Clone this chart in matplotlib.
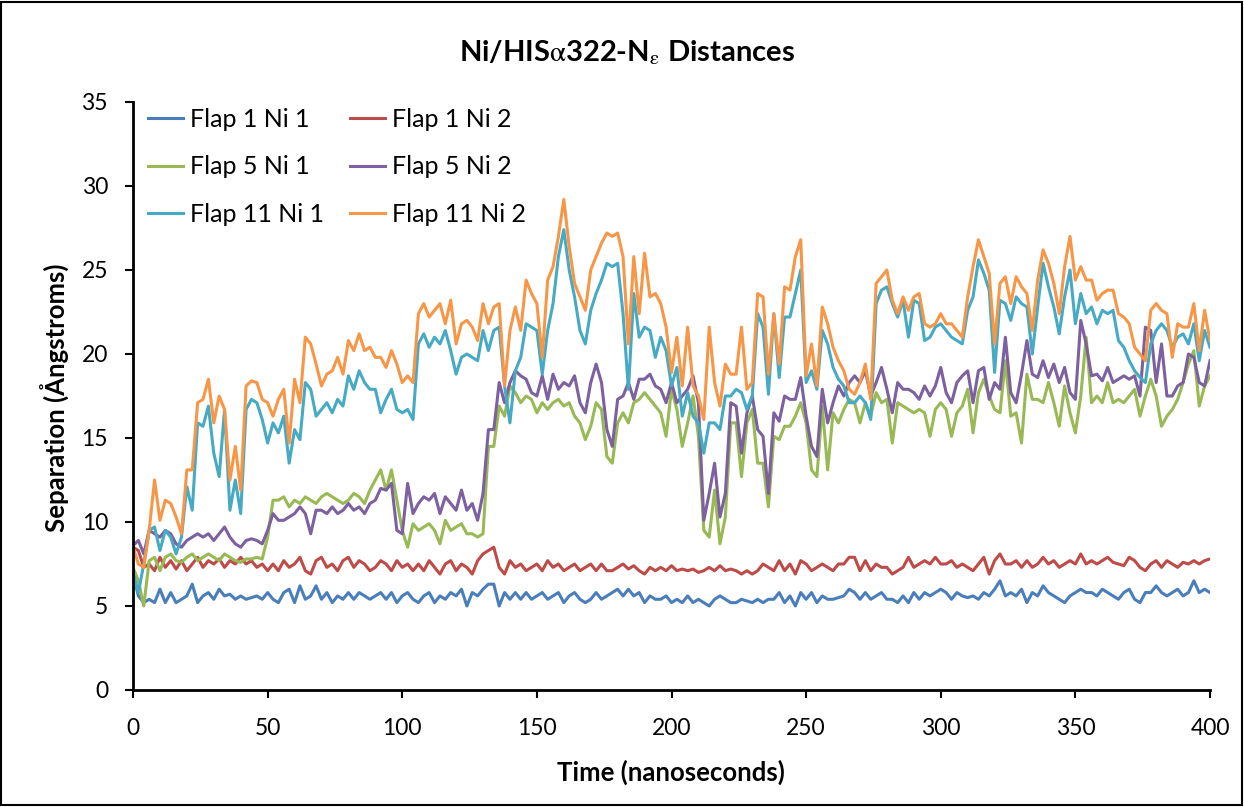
import matplotlib
matplotlib.use("Agg")
import matplotlib.pyplot as plt
import numpy as np
from matplotlib.patches import Rectangle

plt.rcParams['font.family'] = ['Lato', 'DejaVu Sans']
plt.rcParams['mathtext.fontset'] = 'stix'

time_ns = list(range(0, 401, 2))

flap1_ni1 = [6.9, 5.6, 5.2, 5.4, 5.2, 6.0, 5.2, 5.8, 5.2, 5.4, 5.6, 6.3, 5.2, 5.6, 5.8, 5.4, 6.0, 5.6, 5.7, 5.4, 5.6, 5.4, 5.5,
             5.6, 5.4, 5.8, 5.4, 5.2, 5.8, 6.0, 5.2, 6.2, 5.4, 5.6, 6.2, 5.4, 5.8, 5.2, 5.6, 5.4, 5.8, 5.4, 5.8, 5.6, 5.4,
             5.6, 5.8, 5.4, 5.8, 5.2, 5.6, 5.8, 5.4, 5.2, 5.6, 5.8, 5.2, 5.6, 5.4, 5.8, 5.6, 6.0, 5.0, 5.8, 5.6, 6.0, 6.3,
             6.3, 5.0, 5.8, 5.4, 5.8, 5.4, 5.8, 5.4, 5.6, 5.8, 5.4, 5.6, 5.8, 5.2, 5.6, 5.8, 5.4, 5.2, 5.4, 5.8, 5.4, 5.6,
             5.8, 6.0, 5.6, 6.0, 5.6, 5.8, 5.2, 5.6, 5.4, 5.4, 5.6, 5.2, 5.4, 5.2, 5.6, 5.2, 5.4, 5.2, 5.0, 5.4, 5.6, 5.4, 5.2,
             5.2, 5.4, 5.3, 5.2, 5.4, 5.2, 5.4, 5.4, 5.8, 5.2, 5.6, 5.0, 5.8, 5.4, 5.8, 5.2, 5.6, 5.4, 5.4, 5.5, 5.6, 6.0,
             5.8, 5.4, 5.8, 5.4, 5.6, 5.8, 5.4, 5.4, 5.2, 5.6, 5.2, 5.8, 5.4, 5.8, 5.6, 5.8, 6.0, 5.8, 5.4, 5.8, 5.6, 5.5,
             5.6, 5.4, 5.8, 5.6, 6.0, 6.5, 5.6, 5.8, 5.6, 6.0, 5.2, 5.8, 5.6, 6.2, 5.8, 5.6, 5.4, 5.2, 5.6, 5.8, 6.0, 5.8,
             5.8, 5.6, 6.0, 5.8, 5.6, 5.4, 5.8, 6.0, 5.4, 5.2, 5.8, 5.8, 6.2, 5.8, 5.6, 5.8, 6.0, 5.6, 5.8, 6.5, 5.8, 6.0, 5.8]

flap1_ni2 = [8.5, 8.3, 7.3, 7.5, 7.1, 7.9, 7.3, 7.7, 7.2, 7.7, 7.1, 7.5, 7.9, 7.3, 7.7, 7.5, 7.8, 7.3, 7.7, 7.5, 7.9, 7.5, 7.7,
             7.3, 7.5, 7.1, 7.5, 7.1, 7.7, 7.3, 7.5, 7.9, 7.1, 6.9, 7.7, 7.9, 7.3, 7.5, 7.1, 7.7, 7.9, 7.3, 7.7, 7.5, 7.1,
             7.3, 7.7, 7.5, 7.1, 7.7, 7.3, 7.5, 7.1, 7.5, 7.1, 7.7, 7.3, 6.9, 7.5, 7.7, 7.1, 7.5, 7.3, 6.9, 7.7, 8.1, 8.3,
             8.5, 7.3, 6.9, 7.7, 7.3, 7.5, 7.1, 7.3, 7.5, 7.1, 7.7, 7.3, 7.5, 7.1, 7.3, 7.5, 7.1, 7.3, 7.5, 7.1, 7.5, 7.1,
             7.1, 7.3, 7.5, 7.2, 7.4, 7.1, 6.9, 7.3, 7.1, 7.3, 7.1, 7.4, 7.1, 7.2, 7.1, 7.2, 7.0, 7.1, 7.3, 7.1, 7.4, 7.1, 7.2,
             7.1, 6.9, 7.1, 6.9, 7.1, 7.5, 7.3, 7.1, 7.7, 7.1, 7.5, 6.9, 7.7, 7.5, 7.1, 7.3, 7.5, 7.3, 7.1, 7.5, 7.5, 7.9,
             7.9, 7.1, 7.7, 7.1, 7.5, 7.3, 7.3, 6.9, 7.1, 7.3, 7.9, 7.3, 7.5, 7.7, 7.5, 7.9, 7.5, 7.5, 7.7, 7.3, 7.5, 7.3,
             7.1, 7.5, 7.9, 6.9, 7.7, 8.1, 7.5, 7.5, 7.7, 7.3, 7.7, 7.3, 7.5, 7.9, 7.5, 7.7, 7.3, 7.5, 7.7, 7.5, 8.1, 7.5,
             7.7, 7.5, 7.7, 7.9, 7.6, 7.5, 7.4, 7.9, 7.7, 7.3, 7.1, 7.5, 7.7, 7.3, 7.7, 7.5, 7.3, 7.6, 7.5, 7.7, 7.5, 7.7, 7.8]

flap5_ni1 = [7.3, 6.5, 5.0, 7.7, 7.9, 7.1, 7.9, 8.1, 7.7, 7.6, 7.9, 8.1, 7.7, 7.9, 8.1, 7.9, 7.7, 8.1, 7.9, 7.7, 7.6, 7.8, 7.8,
             7.9, 7.8, 9.1, 11.3, 11.3, 11.5, 10.9, 11.3, 11.1, 11.5, 11.3, 11.1, 11.5, 11.7, 11.5, 11.3, 11.1, 11.3, 11.7, 11.5, 11.1, 11.9,
             12.5, 13.1, 11.9, 13.1, 11.3, 9.5, 8.5, 9.9, 9.5, 9.7, 9.9, 9.5, 8.7, 10.1, 9.5, 9.7, 9.9, 9.3, 9.3, 9.1, 9.3, 14.5,
             14.5, 16.9, 16.3, 18.1, 17.7, 17.1, 17.5, 17.3, 16.5, 17.1, 16.7, 17.1, 17.3, 16.9, 17.1, 16.3, 15.9, 14.9, 15.7, 17.1, 16.7, 13.9,
             13.5, 15.9, 16.5, 15.9, 17.1, 17.3, 17.7, 17.3, 16.9, 16.5, 15.1, 17.9, 16.7, 14.5, 15.9, 17.5, 15.1, 9.5, 9.1, 11.9, 8.7, 10.3, 15.9,
             15.9, 12.7, 15.9, 16.7, 13.5, 13.5, 10.9, 15.1, 14.9, 15.7, 15.7, 16.3, 17.1, 15.9, 13.1, 12.7, 16.9, 13.1, 16.5, 15.9, 16.7, 17.3,
             17.1, 15.9, 17.1, 16.3, 17.7, 17.1, 17.3, 14.7, 17.1, 16.9, 16.7, 16.5, 16.7, 16.5, 15.1, 16.7, 17.1, 16.7, 15.1, 16.5, 16.9, 17.9,
             15.3, 17.7, 18.5, 17.5, 16.7, 16.5, 19.6, 16.3, 16.5, 14.7, 18.8, 17.3, 17.3, 17.1, 18.3, 17.1, 15.7, 18.1, 16.5, 15.3, 17.5, 21.0,
             17.1, 17.5, 17.1, 18.3, 17.1, 17.3, 17.1, 17.5, 17.9, 16.3, 17.5, 18.5, 17.5, 15.7, 16.3, 16.7, 17.3, 18.3, 19.4, 20.2, 16.9, 18.1, 18.7]

flap5_ni2 = [8.6, 8.9, 8.1, 9.5, 9.3, 9.1, 9.5, 9.3, 8.7, 8.5, 8.9, 9.1, 9.3, 9.1, 9.3, 8.9, 9.3, 9.7, 9.1, 8.7, 8.5, 8.9, 9.0,
             8.9, 8.7, 9.5, 10.5, 10.1, 10.1, 10.3, 10.5, 10.9, 10.5, 9.3, 10.7, 10.7, 10.5, 10.9, 10.5, 10.7, 11.1, 10.7, 10.9, 10.5, 11.1,
             11.3, 12.0, 11.9, 12.3, 9.5, 9.3, 12.3, 10.5, 11.1, 11.5, 11.3, 11.7, 10.5, 11.5, 11.1, 10.7, 11.9, 10.7, 11.1, 10.1, 11.7, 15.5,
             15.5, 18.3, 17.1, 18.3, 19.0, 18.7, 18.5, 17.7, 17.5, 18.7, 17.3, 18.8, 17.9, 18.3, 18.1, 18.7, 17.1, 16.5, 18.3, 19.4, 18.3, 15.5,
             14.5, 17.3, 17.5, 18.3, 17.3, 18.5, 18.5, 18.8, 18.1, 17.9, 17.1, 18.3, 17.1, 17.5, 17.9, 18.7, 17.1, 10.1, 11.7, 13.5, 10.3, 11.7, 17.1,
             16.9, 14.1, 16.5, 17.5, 15.5, 15.1, 11.7, 16.5, 16.0, 17.5, 17.3, 17.3, 18.6, 16.3, 14.5, 13.9, 17.9, 15.9, 17.1, 18.1, 17.5, 18.3,
             18.7, 18.3, 19.0, 17.5, 18.3, 19.2, 17.9, 16.5, 18.3, 17.9, 17.9, 17.7, 17.3, 18.1, 17.5, 18.1, 19.2, 17.7, 17.1, 18.3, 18.7, 19.0,
             17.1, 19.0, 19.2, 17.3, 18.3, 17.9, 21.0, 17.7, 17.1, 18.8, 20.8, 18.8, 18.6, 19.6, 18.6, 19.4, 18.3, 19.2, 17.7, 17.3, 22.0, 20.6,
             18.7, 18.8, 18.4, 19.2, 18.3, 18.5, 18.7, 18.5, 18.7, 17.5, 21.6, 21.4, 18.3, 20.6, 17.5, 17.5, 18.1, 18.3, 20.0, 19.8, 18.3, 18.1, 19.6]

flap11_ni1 = [7.0, 5.8, 7.5, 9.5, 9.7, 8.3, 9.5, 9.1, 8.1, 9.1, 12.1, 10.7, 15.9, 15.7, 16.9, 14.1, 12.7, 16.7, 10.7, 12.5, 10.5, 16.7, 17.3,
              17.1, 16.1, 14.7, 15.9, 15.3, 16.3, 13.5, 15.5, 14.9, 18.3, 17.9, 16.3, 16.7, 17.1, 16.5, 17.3, 16.9, 18.7, 17.9, 19.0, 18.3, 17.9,
              17.9, 16.5, 17.3, 17.9, 16.7, 16.5, 16.7, 16.1, 20.6, 21.2, 20.4, 21.0, 20.6, 21.4, 20.2, 18.8, 19.8, 20.0, 19.8, 19.6, 21.4, 20.2,
              21.4, 21.6, 18.1, 15.9, 19.0, 19.8, 21.8, 21.6, 21.4, 18.8, 21.4, 23.0, 25.8, 27.4, 25.0, 23.4, 21.4, 20.6, 22.6, 23.6, 24.4, 25.4,
              25.2, 25.4, 22.4, 17.9, 23.6, 21.0, 21.6, 21.4, 19.8, 21.0, 20.2, 18.1, 19.2, 16.3, 17.7, 16.3, 15.9, 14.1, 15.9, 15.9, 15.5, 17.5, 17.5,
              17.9, 17.7, 16.7, 17.5, 22.4, 21.6, 17.6, 22.4, 18.6, 22.2, 22.2, 23.6, 25.0, 18.3, 19.0, 17.9, 21.4, 20.6, 19.2, 18.5, 18.1, 17.1,
              17.1, 17.5, 17.1, 16.1, 23.0, 23.8, 24.0, 23.0, 22.2, 23.2, 21.0, 23.2, 23.0, 20.8, 21.0, 21.6, 21.8, 21.4, 21.0, 20.8, 20.6, 22.6,
              23.4, 25.6, 24.8, 23.8, 18.9, 23.2, 23.0, 22.0, 23.4, 23.0, 22.8, 20.0, 22.8, 25.4, 24.0, 22.8, 21.2, 23.4, 25.0, 21.8, 23.6, 22.4,
              22.8, 21.8, 22.6, 22.4, 22.6, 20.8, 20.4, 19.6, 19.0, 18.6, 18.3, 20.6, 21.4, 21.8, 21.4, 20.4, 21.0, 21.2, 20.6, 21.8, 19.6, 21.4, 20.4]

flap11_ni2 = [8.5, 7.5, 7.3, 9.5, 12.5, 10.1, 11.3, 11.1, 10.3, 9.3, 13.1, 13.1, 17.1, 17.3, 18.5, 15.9, 17.5, 16.7, 12.5, 14.5, 11.9, 18.1, 18.4,
              18.3, 17.3, 17.1, 16.3, 17.3, 17.9, 14.7, 18.5, 17.1, 21.0, 20.6, 19.4, 18.1, 18.8, 19.0, 19.8, 18.8, 20.8, 20.2, 21.2, 20.2, 20.4,
              19.8, 19.8, 19.2, 20.2, 19.4, 18.3, 18.7, 18.3, 22.4, 23.0, 22.2, 22.6, 23.0, 21.8, 23.2, 20.6, 21.8, 22.0, 21.6, 20.8, 23.0, 21.8,
              22.8, 23.0, 18.1, 21.4, 22.8, 21.4, 24.4, 23.6, 23.0, 19.8, 24.4, 25.2, 27.0, 29.2, 26.4, 24.2, 23.4, 22.6, 25.0, 25.8, 26.6, 27.2,
              27.0, 27.2, 25.8, 20.6, 25.8, 22.4, 26.0, 23.4, 23.6, 23.0, 21.6, 18.9, 21.0, 18.1, 21.6, 18.1, 17.5, 16.1, 21.6, 18.3, 16.9, 19.4, 18.8,
              18.8, 21.6, 17.9, 18.3, 23.6, 23.4, 18.8, 22.4, 19.4, 24.0, 23.8, 25.8, 26.8, 18.7, 20.6, 18.1, 22.8, 21.8, 20.4, 19.6, 19.0, 17.9,
              17.6, 18.3, 19.4, 17.3, 24.2, 24.6, 25.0, 23.2, 22.4, 23.4, 22.6, 23.4, 23.6, 21.8, 21.6, 21.8, 22.4, 21.8, 21.8, 21.4, 21.0, 23.4,
              25.2, 26.8, 25.8, 24.8, 20.6, 24.2, 24.6, 23.0, 24.6, 24.0, 23.6, 21.4, 24.4, 26.2, 25.4, 24.2, 22.4, 25.2, 27.0, 24.4, 25.2, 24.4,
              24.4, 23.2, 23.6, 23.8, 23.8, 22.4, 22.2, 21.8, 20.4, 20.0, 19.6, 22.6, 23.0, 22.6, 22.4, 19.8, 21.8, 21.6, 21.6, 23.0, 20.2, 22.6, 20.8]

series_names = ["Flap 1 Ni 1", "Flap 1 Ni 2", "Flap 5 Ni 1", "Flap 5 Ni 2", "Flap 11 Ni 1", "Flap 11 Ni 2"]
series_data = [flap1_ni1, flap1_ni2, flap5_ni1, flap5_ni2, flap11_ni1, flap11_ni2]
series_colors = ["#4A7EBB", "#BE4B48", "#98B954", "#7D60A0", "#46AAC5", "#F79646"]

x_ticks = [0, 50, 100, 150, 200, 250, 300, 350, 400]
y_ticks = [0, 5, 10, 15, 20, 25, 30, 35]

W, H = 1244, 807
fig = plt.figure(figsize=(W/100, H/100), dpi=100)
ax = fig.add_axes([133/W, 1 - 690/H, (1210-133)/W, (690-102)/H])

handles = []
for name, data, color in zip(series_names, series_data, series_colors):
    n = min(len(time_ns), len(data))
    h, = ax.plot(time_ns[:n], data[:n], color=color, lw=2.2, label=name,
                 solid_joinstyle='round')
    handles.append(h)

ax.set_xlim(0, 400)
ax.set_ylim(0, 35)
ax.set_xticks(x_ticks)
ax.set_yticks(y_ticks)
ax.tick_params(axis='both', labelsize=16.5, direction='out', length=6, width=1.5, color='black')
ax.tick_params(axis='x', pad=14)
ax.tick_params(axis='y', pad=12)
for s in ['top', 'right']:
    ax.spines[s].set_visible(False)
for s in ['left', 'bottom']:
    ax.spines[s].set_linewidth(2.0)
    ax.spines[s].set_color('black')

fig.text(671/W, 1 - 772/H, "Time (nanoseconds)", ha='center', va='center',
         fontsize=18.5, fontweight='bold')
fig.text(55/W, 1 - 398/H, "Separation (Ångstroms)", ha='center', va='center',
         rotation=90, fontsize=18.5, fontweight='bold')

fig.text(627/W, 1 - 53/H, r"Ni/HIS$\mathrm{\alpha}$322-N$_{\mathrm{\varepsilon}}$ Distances",
         ha='center', va='center', fontsize=21, fontweight='bold')

order = [0, 2, 4, 1, 3, 5]
leg = ax.legend([handles[i] for i in order], [series_names[i] for i in order],
                ncol=2, loc='upper left', bbox_to_anchor=((148-133)/1077, 1.0 - 6/588),
                frameon=False, fontsize=18, handlelength=1.4, handletextpad=0.3,
                columnspacing=1.0, labelspacing=0.98, borderpad=0, borderaxespad=0)

fig.patches.append(Rectangle((0.001, 0.002), 0.997, 0.996, transform=fig.transFigure,
                             fill=False, edgecolor='black', lw=1.5))

fig.savefig("out.png", dpi=100, facecolor='white')
